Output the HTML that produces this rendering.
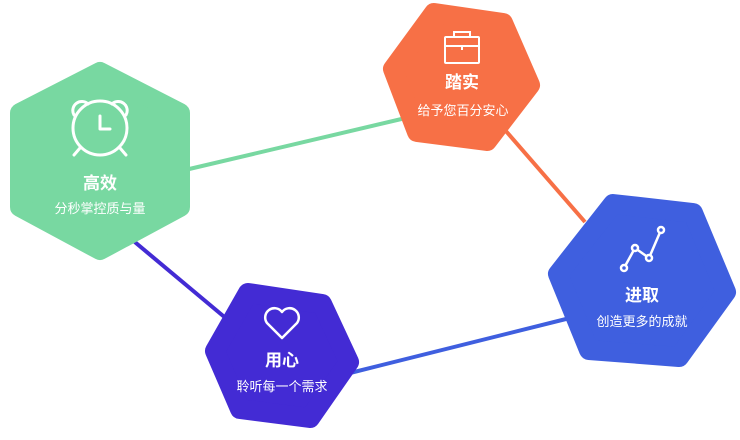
<!DOCTYPE html>
<html><head><meta charset="utf-8"><style>
body{margin:0;background:#fff;width:740px;height:440px;overflow:hidden}
svg{display:block}
text{font-family:"Liberation Sans","Noto Sans CJK SC",sans-serif;fill:#fff;text-anchor:middle}
.t{font-size:17px;font-weight:bold}
.s{font-size:13px}
</style></head><body>
<svg width="740" height="440" viewBox="0 0 740 440">
<g stroke-width="4">
<line x1="185" y1="170" x2="410" y2="117" stroke="#78d8a1"/>
<line x1="505" y1="130" x2="585" y2="222" stroke="#f77046"/>
<line x1="350" y1="373" x2="570" y2="318" stroke="#3f5fdf"/>
<line x1="130" y1="238" x2="228" y2="320" stroke="#432bd4"/>
</g>
<g stroke-linejoin="round" stroke-width="20">
<polygon points="100,72 180,113 180,207 100,250 20,207 20,113" fill="#78d8a1" stroke="#78d8a1"/>
<polygon points="434,13 503,23 530,85 487,141 417,132 393,69" fill="#f77046" stroke="#f77046"/>
<polygon points="613,204 693,213 726,292 679,357 589,350 558,274" fill="#3f5fdf" stroke="#3f5fdf"/>
<polygon points="248,293 322,304 349,362 310,418 240,409 215,351" fill="#432bd4" stroke="#432bd4"/>
</g>
<g fill="none" stroke="#fff" stroke-width="3" stroke-linecap="round" stroke-linejoin="round">
<circle cx="100" cy="128" r="27"/>
<path d="M100,116 V129 H110"/>
<path d="M74,115 A9,9 0 0 1 88,104 M126,115 A9,9 0 0 0 112,104"/>
<path d="M80,148 L74,155 M120,148 L126,155"/>
</g>
<g fill="none" stroke="#fff" stroke-width="2">
<rect x="445" y="37" width="34" height="26" rx="1"/>
<path d="M445,46 H479 M462,46 V50 M454,37 V32 H470 V37"/>
</g>
<g fill="none" stroke="#fff" stroke-width="2.5">
<polyline points="624,268 635,248 649,258 661,230"/>
<circle cx="624" cy="268" r="3" fill="#3f5fdf"/>
<circle cx="635" cy="248" r="3" fill="#3f5fdf"/>
<circle cx="649" cy="258" r="3" fill="#3f5fdf"/>
<circle cx="661" cy="230" r="3" fill="#3f5fdf"/>
<path d="M282,338 L267,323 A8,8 0 0 1 282,312 A8,8 0 0 1 297,323 Z" stroke-linejoin="round"/>
</g>
<text class="t" x="100" y="189">高效</text>
<text class="s" x="100" y="213">分秒掌控质与量</text>
<text class="t" x="462" y="88">踏实</text>
<text class="s" x="463" y="115">给予您百分安心</text>
<text class="t" x="642" y="301">进取</text>
<text class="s" x="642" y="326">创造更多的成就</text>
<text class="t" x="282" y="366">用心</text>
<text class="s" x="282" y="391">聆听每一个需求</text>
</svg>
</body></html>
